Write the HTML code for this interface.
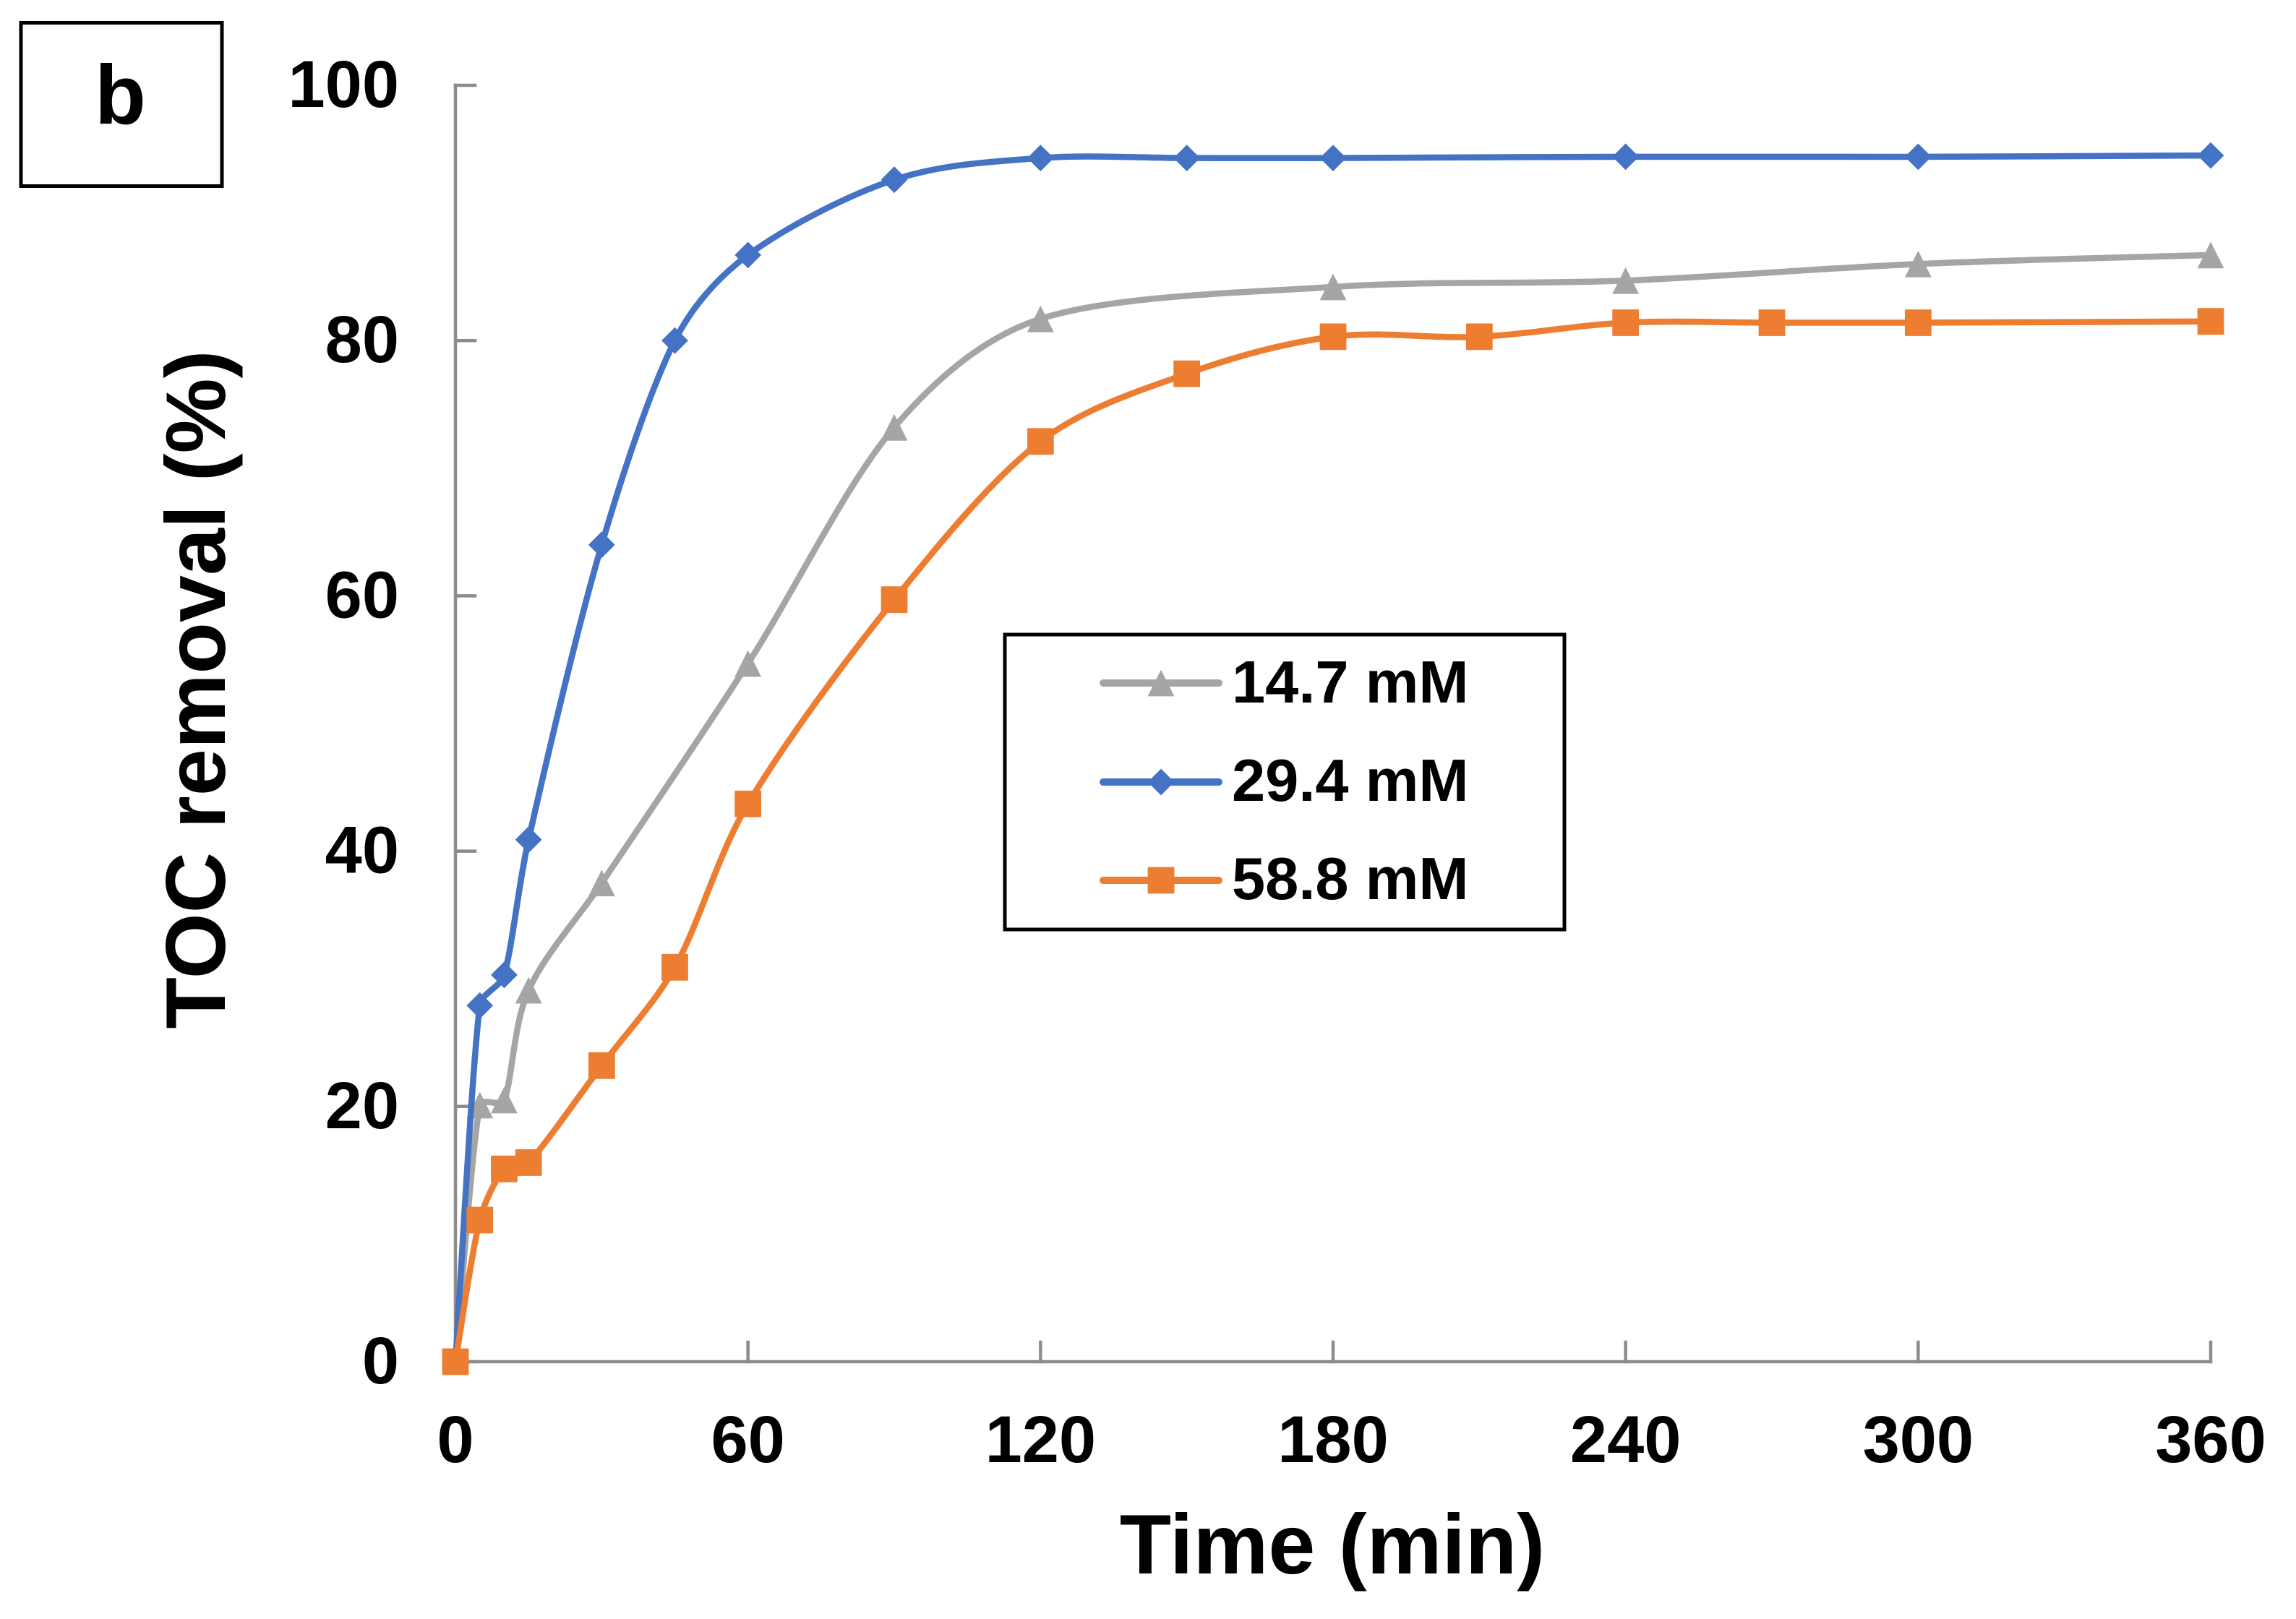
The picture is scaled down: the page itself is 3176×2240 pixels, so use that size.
<!DOCTYPE html>
<html lang="en">
<head>
<meta charset="utf-8">
<title>TOC removal over time</title>
<style>
html,body{margin:0;padding:0;background:#fff;}
svg{display:block;}
text{font-family:"Liberation Sans",Arial,sans-serif;font-weight:bold;fill:#000;}
</style>
</head>
<body>
<svg id="chart" width="3176" height="2240" viewBox="0 0 3176 2240" xmlns="http://www.w3.org/2000/svg">
  <rect x="0" y="0" width="3176" height="2240" fill="#ffffff"/>
  <rect x="29" y="31.5" width="278" height="226" fill="#fff" stroke="#000" stroke-width="5"/>
  <text x="131" y="171" font-size="116">b</text>

  <g id="axes"></g>
  <g id="series"></g>

  <text x="1843" y="2177" font-size="116.8" text-anchor="middle">Time (min)</text>
  <text transform="translate(311 954) rotate(-90)" font-size="116.8" text-anchor="middle">TOC removal (%)</text>

  <g>
    <rect x="1390" y="878" width="774" height="408" fill="#fff" stroke="#000" stroke-width="5"/>
    <g id="legend-keys"></g>
    <text x="1704" y="972" font-size="83">14.7 mM</text>
    <text x="1704" y="1108" font-size="83">29.4 mM</text>
    <text x="1704" y="1244" font-size="83">58.8 mM</text>
  </g>
</svg>
<script>
const xTickValues = [0, 60, 120, 180, 240, 300, 360];
const yTickValues = [0, 20, 40, 60, 80, 100];

const timeGray = [0, 5, 10, 15, 30, 60, 90, 120, 180, 240, 300, 360];
const removalGray = [0, 20.1, 20.5, 29.1, 37.5, 54.7, 73.2, 81.7, 84.2, 84.7, 86, 86.7];

const timeBlue = [0, 5, 10, 15, 30, 45, 60, 90, 120, 150, 180, 240, 300, 360];
const removalBlue = [0, 27.9, 30.3, 40.9, 64, 80, 86.7, 92.6, 94.3, 94.3, 94.3, 94.4, 94.4, 94.5];

const timeOrange = [0, 5, 10, 15, 30, 45, 60, 90, 120, 150, 180, 210, 240, 270, 300, 360];
const removalOrange = [0, 11.1, 15.1, 15.6, 23.2, 30.9, 43.7, 59.7, 72.1, 77.4, 80.3, 80.3, 81.4, 81.4, 81.4, 81.5];

const xMax = 360;
const yMax = 100;
const plotLeft = 630;
const plotRight = 3058;
const plotTop = 118;
const plotBottom = 1884;

function xScale(v) { return plotLeft + (v / xMax) * (plotRight - plotLeft); }
function yScale(v) { return plotBottom - (v / yMax) * (plotBottom - plotTop); }

const NS = 'http://www.w3.org/2000/svg';
const axesG = document.getElementById('axes');
const seriesG = document.getElementById('series');
const legendG = document.getElementById('legend-keys');
const axisColor = '#8c8c8c';

function drawLine(parent, x1, y1, x2, y2, name) {
  const l = document.createElementNS(NS, 'line');
  l.setAttribute('x1', x1);
  l.setAttribute('y1', y1);
  l.setAttribute('x2', x2);
  l.setAttribute('y2', y2);
  l.setAttribute('stroke', axisColor);
  l.setAttribute('stroke-width', 4.5);
  l.setAttribute('stroke-linecap', 'square');
  
  
  parent.appendChild(l);
}

function drawTickLabel(x, y, anchor, str, name) {
  const t = document.createElementNS(NS, 'text');
  t.setAttribute('x', x);
  t.setAttribute('y', y);
  t.setAttribute('font-size', 92);
  t.setAttribute('text-anchor', anchor);
  
  
  t.textContent = str;
  axesG.appendChild(t);
}

drawLine(axesG, xScale(0), yScale(0), xScale(xMax), yScale(0), 'x-axis-line');
drawLine(axesG, xScale(0), yScale(0), xScale(0), yScale(yMax), 'y-axis-line');

xTickValues.forEach(function (v) {
  drawLine(axesG, xScale(v), yScale(0), xScale(v), yScale(0) - 27, 'x-tick');
  drawTickLabel(xScale(v), 2023, 'middle', String(v), 'x-tick-label');
});
yTickValues.forEach(function (v) {
  drawLine(axesG, xScale(0), yScale(v), xScale(0) + 27, yScale(v), 'y-tick');
  drawTickLabel(552, yScale(v) + 30, 'end', String(v), 'y-tick-label');
});

function ctrl(px, py, i, j, sign) {
  const i0 = Math.max(i - 1, 0);
  const i1 = Math.min(i + 1, px.length - 1);
  let tx = (px[i1] - px[i0]) / 6;
  let ty = (py[i1] - py[i0]) / 6;
  const mag = Math.hypot(tx, ty) || 1;
  const seg = Math.hypot(px[j] - px[i], py[j] - py[i]);
  const lim = seg / 3;
  if (mag > lim) {
    tx = tx * lim / mag;
    ty = ty * lim / mag;
  }
  return [px[i] + sign * tx, py[i] + sign * ty];
}

function smoothPath(xs, ys) {
  const px = xs.map(xScale);
  const py = ys.map(yScale);
  let d = 'M' + px[0] + ' ' + py[0];
  for (let i = 0; i < px.length - 1; i++) {
    const c1 = ctrl(px, py, i, i + 1, 1);
    const c2 = ctrl(px, py, i + 1, i, -1);
    d += ' C' + c1[0] + ' ' + c1[1] + ' ' + c2[0] + ' ' + c2[1] + ' ' + px[i + 1] + ' ' + py[i + 1];
  }
  return d;
}

function makeMarker(kind, cx, cy, color) {
  const s = 18.4;
  let m;
  if (kind === 'square') {
    m = document.createElementNS(NS, 'rect');
    m.setAttribute('x', cx - s);
    m.setAttribute('y', cy - s);
    m.setAttribute('width', 2 * s);
    m.setAttribute('height', 2 * s);
    m.setAttribute('rx', 1);
  } else if (kind === 'diamond') {
    m = document.createElementNS(NS, 'polygon');
    m.setAttribute('points', cx + ',' + (cy - s) + ' ' + (cx + s) + ',' + cy + ' ' + cx + ',' + (cy + s) + ' ' + (cx - s) + ',' + cy);
  } else {
    m = document.createElementNS(NS, 'polygon');
    m.setAttribute('points', cx + ',' + (cy - s) + ' ' + (cx + s) + ',' + (cy + s) + ' ' + (cx - s) + ',' + (cy + s));
  }
  m.setAttribute('fill', color);
  return m;
}

function drawSeries(name, xs, ys, color, kind) {
  const g = document.createElementNS(NS, 'g');
  
  
  const p = document.createElementNS(NS, 'path');
  p.setAttribute('d', smoothPath(xs, ys));
  p.setAttribute('fill', 'none');
  p.setAttribute('stroke', color);
  p.setAttribute('stroke-width', 8.5);
  p.setAttribute('stroke-linecap', 'round');
  p.setAttribute('stroke-linejoin', 'round');
  
  
  g.appendChild(p);
  xs.forEach(function (x, i) {
    const m = makeMarker(kind, xScale(x), yScale(ys[i]), color);
    
    
    g.appendChild(m);
  });
  seriesG.appendChild(g);
}

drawSeries('series-14-7-mm', timeGray, removalGray, '#a5a5a5', 'triangle');
drawSeries('series-29-4-mm', timeBlue, removalBlue, '#4472c4', 'diamond');
drawSeries('series-58-8-mm', timeOrange, removalOrange, '#ed7d31', 'square');

function drawLegendKey(y, color, kind) {
  const l = document.createElementNS(NS, 'line');
  l.setAttribute('x1', 1526);
  l.setAttribute('x2', 1686);
  l.setAttribute('y1', y);
  l.setAttribute('y2', y);
  l.setAttribute('stroke', color);
  l.setAttribute('stroke-width', 10);
  l.setAttribute('stroke-linecap', 'round');
  
  
  legendG.appendChild(l);
  const m = makeMarker(kind, 1606, y, color);
  
  
  legendG.appendChild(m);
}

drawLegendKey(945, '#a5a5a5', 'triangle');
drawLegendKey(1082, '#4472c4', 'diamond');
drawLegendKey(1218, '#ed7d31', 'square');
</script>
</body>
</html>
